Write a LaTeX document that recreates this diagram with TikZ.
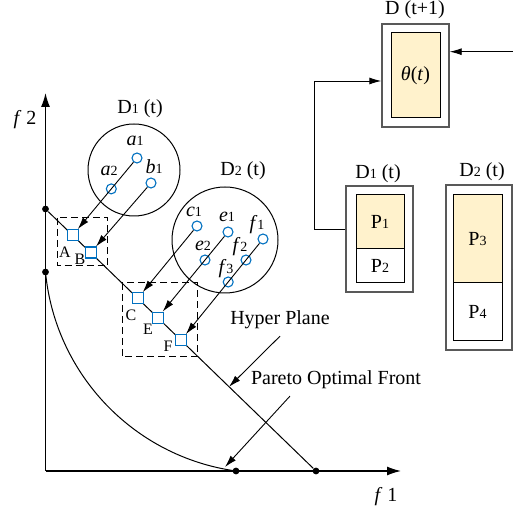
\documentclass[tikz,border=0pt]{standalone}
\usepackage{fontspec}
\setmainfont{Liberation Serif}
\usetikzlibrary{arrows.meta,positioning}
\definecolor{ptblue}{HTML}{0070C0}
\definecolor{pfill}{HTML}{FFF2CC}
\newcommand{\sidx}[1]{{\scriptsize #1}}
\tikzset{
  ax/.style={line width=0.7pt, -{Latex[length=7pt,width=4.5pt]}},
  link/.style={line width=0.45pt, -{Latex[length=6pt,width=3.5pt]}},
  thinline/.style={line width=0.5pt},
  dot/.style={circle, fill=black, minimum size=3.4pt, inner sep=0pt},
  pt/.style={circle, draw=ptblue, line width=0.55pt, minimum size=5pt, inner sep=0pt},
  sq/.style={rectangle, draw=ptblue, fill=white, line width=0.6pt, minimum size=5.5pt, inner sep=0pt},
  sqlab/.style={font=\footnotesize, inner sep=1pt},
  grp/.style={draw, dashed, dash pattern=on 3.5pt off 2pt, line width=0.5pt},
  region/.style={circle, draw, line width=0.5pt, inner sep=0pt},
  outbox/.style={draw=black!65, line width=0.7pt, inner sep=0pt},
  inbox/.style={draw, line width=0.5pt, inner sep=0pt, minimum width=24.5pt}
}
\begin{document}
\begin{tikzpicture}[x=0.5pt,y=-0.5pt]
\useasboundingbox (0,0) rectangle (513,506);

% axes
\coordinate (O) at (45.5,471);
\coordinate (ytop) at (45.5,93);
\coordinate (xend) at (401,471);
\draw[ax] (O) -- (ytop);
\draw[ax] (O) -- (xend);
\node (ylab) at (25,120) {\textit{f}\ 2};
\node (xlab) at (386,497) {\textit{f}\ 1};

% hyper plane and pareto front
\node[dot] (h1) at (45.5,209) {};
\node[dot] (h2) at (316,471) {};
\node[dot] (p1) at (45.5,272) {};
\node[dot] (p2) at (236,471) {};
\draw[thinline] (h1) -- (h2);
\draw[thinline] (p1.center) arc[start angle=174.6, end angle=97.9, radius=222];

% groups on the plane
\draw[grp] (57.7,218) rectangle (107.7,266);
\draw[grp] (122,283) rectangle (197,357);
\node[sq] (A) at (72.7,235.2) {};
\node[sq] (B) at (90.7,252.6) {};
\node[sq] (C) at (137.7,298.3) {};
\node[sq] (E) at (157.7,317.7) {};
\node[sq] (F) at (181,340.2) {};
\node[sqlab] (lA) at (65,252) {A};
\node[sqlab] (lB) at (80,259) {B};
\node[sqlab] (lC) at (131,315) {C};
\node[sqlab] (lE) at (148,329) {E};
\node[sqlab] (lF) at (168,346) {F};

% subproblem D1
\node[region, minimum size=46pt] (D1c) at (134,170) {};
\node (D1l) at (140,109) {D\sidx{1} (t)};
\node[pt] (a1) at (137,158) {};
\node[pt] (a2) at (111.3,188.9) {};
\node[pt] (b1) at (151,183) {};
\node (la1) at (135,141) {\textit{a}\sidx{1}};
\node (la2) at (109,171) {\textit{a}\sidx{2}};
\node (lb1) at (154,167) {\textit{b}\sidx{1}};

% subproblem D2
\node[region, minimum size=53pt] (D2c) at (225,240) {};
\node (D2l) at (243,171) {D\sidx{2} (t)};
\node[pt] (c1) at (197,226) {};
\node[pt] (e1) at (228,232) {};
\node[pt] (f1) at (263,239) {};
\node[pt] (e2) at (205,260) {};
\node[pt] (f2) at (246,260) {};
\node[pt] (f3) at (228.2,282) {};
\node (lc1) at (194,212) {\textit{c}\sidx{1}};
\node (le1) at (227,217) {\textit{e}\sidx{1}};
\node (lf1) at (257,225) {\textit{f}\sidx{1}};
\node (le2) at (203,246) {\textit{e}\sidx{2}};
\node (lf2) at (240,247) {\textit{f}\sidx{2}};
\node (lf3) at (226,269) {\textit{f}\sidx{3}};

\draw[link] (a1) -- (A);
\draw[link] (b1) -- (B);
\draw[link] (c1) -- (C);
\draw[link] (e1) -- (E);
\draw[link] (f1) -- (F);

% callouts
\node (hp) at (280,320) {Hyper Plane};
\node (pf) at (336,380) {Pareto Optimal Front};
\coordinate (hpt) at (229,386.8);
\coordinate (pft) at (225,467);
\draw[link] (hp.south) -- (hpt);
\draw[link] ([xshift=23pt]pf.south west) -- (pft);

% memory boxes
\node[outbox, minimum width=33.5pt, minimum height=51.5pt] (Dout) at (415.5,75.5) {};
\node[inbox, fill=pfill, minimum height=42.5pt] (Din) at (415.5,75.5) {\textit{θ}(\textit{t})};
\node (Dlab) at (415,10) {D (t+1)};

\node[outbox, minimum width=33.5pt, minimum height=53pt] (D1out) at (379.5,239) {};
\node[inbox, fill=pfill, minimum width=24pt, minimum height=27pt] (P1) at (380,222) {P\sidx{1}};
\node[inbox, minimum width=24pt, minimum height=17pt] (P2) at (380,266) {P\sidx{2}};
\node (D1lab) at (378,174) {D\sidx{1} (t)};

\node[outbox, minimum width=33pt, minimum height=82.5pt] (D2out) at (479,267.5) {};
\node[inbox, fill=pfill, minimum height=44pt] (P3) at (477.5,239) {P\sidx{3}};
\node[inbox, minimum height=29pt] (P4) at (477.5,312) {P\sidx{4}};
\node (D2lab) at (482,172) {D\sidx{2} (t)};

% connectors
\coordinate (j1) at (314,229);
\coordinate (j2) at (314,81);
\coordinate (jr) at (513,51.7);
\coordinate (jr2) at (513,270);
\draw[link] (D1out.west |- j1) -- (j1) -- (j2) -- (Dout.west |- j2);
\draw[link] (jr) -- (Dout.east |- jr);
\draw[thinline] (D2out.east |- jr2) -- (jr2);
\end{tikzpicture}
\end{document}
